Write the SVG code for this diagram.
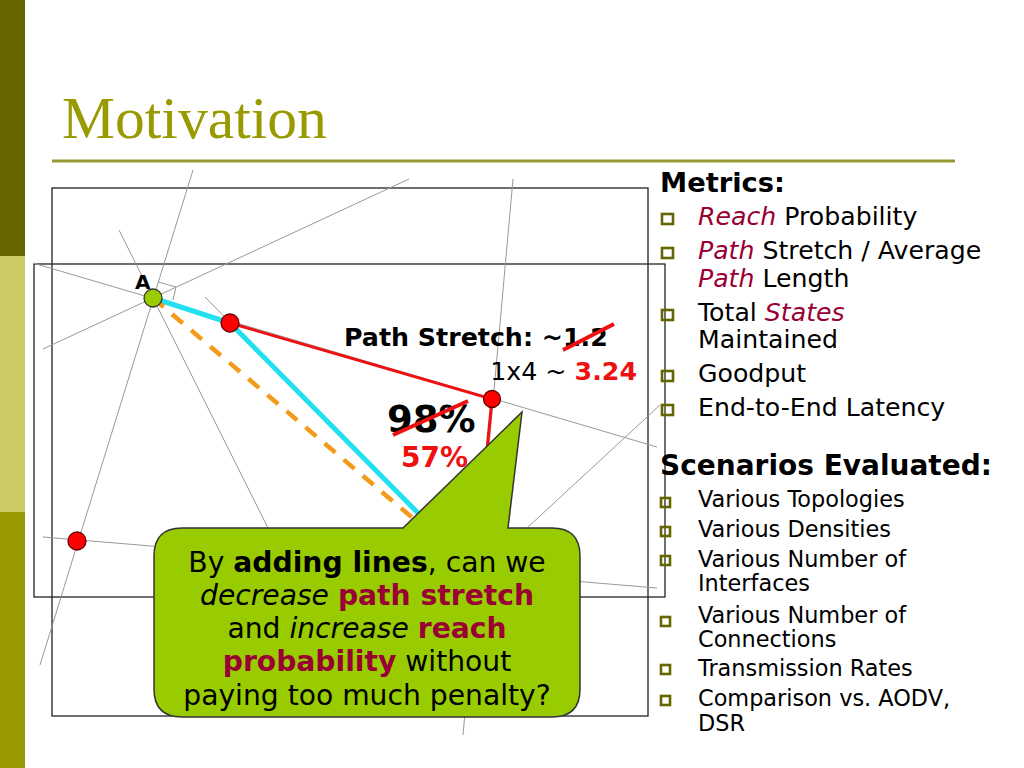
<svg xmlns="http://www.w3.org/2000/svg" width="1024" height="768" viewBox="0 0 1024 768">
<style>
.t{font-family:"DejaVu Sans","Verdana",sans-serif}
.b{font-weight:bold}
.i{font-style:italic}
.dr{fill:#990033}
.rd{fill:#ee1111}
.g{stroke:#999;stroke-width:1;fill:none}
.frame{fill:none;stroke:#222;stroke-width:1.3}
.bul{fill:none;stroke:#666600;stroke-width:2.6}
.node{stroke:#600;stroke-width:1.3}
</style>
<rect width="1024" height="768" fill="#fff"/>
<g id="sidebar">
<rect x="0" y="0" width="25" height="256" fill="#666600"/>
<rect x="0" y="256" width="25" height="256" fill="#cccc66"/>
<rect x="0" y="512" width="25" height="256" fill="#999900"/>
</g>
<g id="title">
<text x="62" y="138" font-family="Liberation Serif,serif" font-size="59.6" fill="#999900">Motivation</text>
<line x1="52" y1="161" x2="955" y2="161" stroke="#999933" stroke-width="3"/>
</g>
<g id="frames">
<rect class="frame" x="52" y="188" width="596" height="528"/>
<rect class="frame" x="34" y="264" width="631" height="333"/>
</g>
<g id="connectors">
<line class="g" x1="193" y1="170" x2="40" y2="665"/>
<line class="g" x1="119" y1="230" x2="268" y2="528"/>
<line class="g" x1="43" y1="349" x2="409" y2="179"/>
<line class="g" x1="33" y1="263" x2="657" y2="447"/>
<line class="g" x1="205" y1="297" x2="420" y2="515"/>
<polyline class="g" points="158,282 176,287 173,300"/>
<line class="g" x1="513" y1="179" x2="463" y2="735"/>
<line class="g" x1="660" y1="405" x2="527" y2="528"/>
<line class="g" x1="43" y1="537" x2="657" y2="588"/>
<polyline points="153,298 230,323 492,399 486,460" fill="none" stroke="#ee1111" stroke-width="3"/>
<polyline points="153,298 230,323 420,515" fill="none" stroke="#22e0f0" stroke-width="5"/>
<line x1="153" y1="298" x2="415" y2="520" stroke="#f39a1a" stroke-width="4.5" stroke-dasharray="14,11"/>
</g>
<g id="nodeA">
<circle cx="153" cy="298" r="9" fill="#99cc00" stroke="#333" stroke-width="1.3"/>
<text class="t b" x="135" y="289" font-size="20">A</text>
</g>
<g id="node1"><circle class="node" cx="230" cy="323" r="9" fill="#ff0000"/></g>
<g id="node2"><circle class="node" cx="492" cy="399" r="8.5" fill="#ff0000"/></g>
<g id="node3"><circle class="node" cx="77" cy="541" r="9" fill="#ff0000"/></g>
<g id="labels">
<text class="t b" x="344" y="346" font-size="25.3">Path Stretch: ~1.2</text>
<line x1="563" y1="350" x2="614" y2="324" stroke="#ee1111" stroke-width="4"/>
<text class="t" x="637" y="380" font-size="25.3" text-anchor="end">1x4 ~ <tspan class="b rd">3.24</tspan></text>
<text class="t b" x="387" y="432" font-size="37">98%</text>
<line x1="393" y1="435" x2="468" y2="401" stroke="#ee1111" stroke-width="4"/>
<text class="t b rd" x="401" y="467" font-size="28">57%</text>
</g>
<g id="callout">
<path d="M182,528 L403,528 L522,412 L508,528 L552,528 Q580,528 580,556 L580,689 Q580,717 552,717 L182,717 Q154,717 154,689 L154,556 Q154,528 182,528 Z" fill="#99cc00" stroke="#333" stroke-width="1.5"/>
<g class="t" font-size="28.2" text-anchor="middle">
<text x="367" y="572">By <tspan class="b">adding lines</tspan>, can we</text>
<text x="367" y="605"><tspan class="i">decrease</tspan> <tspan class="b dr">path stretch</tspan></text>
<text x="367" y="638">and <tspan class="i">increase</tspan> <tspan class="b dr">reach</tspan></text>
<text x="367" y="671"><tspan class="b dr">probability</tspan> without</text>
<text x="367" y="705">paying too much penalty?</text>
</g>
</g>
<g id="metrics" class="t">
<text class="b" x="660" y="192" font-size="27.3">Metrics:</text>
<rect class="bul" x="662" y="214" width="11" height="10"/>
<rect class="bul" x="662" y="248" width="11" height="10"/>
<rect class="bul" x="662" y="310" width="11" height="10"/>
<rect class="bul" x="662" y="371" width="11" height="10"/>
<rect class="bul" x="662" y="405" width="11" height="10"/>
<g font-size="25.2">
<text x="698" y="225"><tspan class="i dr">Reach</tspan> Probability</text>
<text x="698" y="259"><tspan class="i dr">Path</tspan> Stretch / Average</text>
<text x="698" y="287"><tspan class="i dr">Path</tspan> Length</text>
<text x="698" y="321">Total <tspan class="i dr">States</tspan></text>
<text x="698" y="348">Maintained</text>
<text x="698" y="382">Goodput</text>
<text x="698" y="416">End-to-End Latency</text>
</g>
</g>
<g id="scenarios" class="t">
<text class="b" x="660" y="475" font-size="28">Scenarios Evaluated:</text>
<rect class="bul" x="661" y="498" width="9" height="9" stroke-width="2.3"/>
<rect class="bul" x="661" y="527" width="9" height="9" stroke-width="2.3"/>
<rect class="bul" x="661" y="556" width="9" height="9" stroke-width="2.3"/>
<rect class="bul" x="661" y="617" width="9" height="9" stroke-width="2.3"/>
<rect class="bul" x="661" y="665" width="9" height="9" stroke-width="2.3"/>
<rect class="bul" x="661" y="696" width="9" height="9" stroke-width="2.3"/>
<g font-size="22.4">
<text x="698" y="507">Various Topologies</text>
<text x="698" y="537">Various Densities</text>
<text x="698" y="567">Various Number of</text>
<text x="698" y="591">Interfaces</text>
<text x="698" y="623">Various Number of</text>
<text x="698" y="647">Connections</text>
<text x="698" y="676">Transmission Rates</text>
<text x="698" y="706">Comparison vs. AODV,</text>
<text x="698" y="731">DSR</text>
</g>
</g>
</svg>
